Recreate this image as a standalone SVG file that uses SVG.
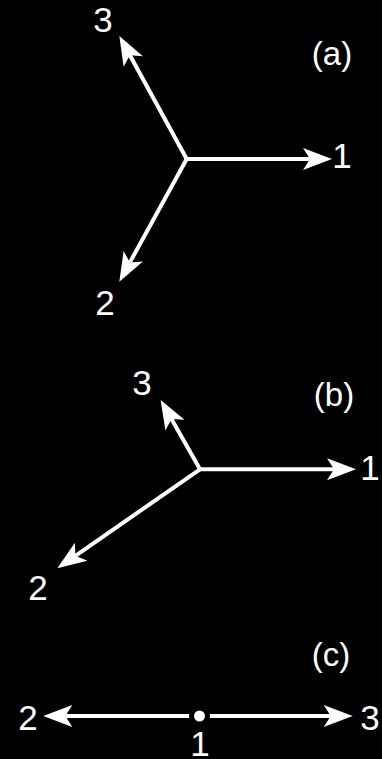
<svg xmlns="http://www.w3.org/2000/svg" width="382" height="759" viewBox="0 0 382 759">
<style>
.ax{stroke:#fff;stroke-width:4;fill:none;marker-end:url(#ah)}
.lb{fill:#fff;font-family:"Liberation Sans",Arial,sans-serif;font-size:35px;text-anchor:middle}
.pl{fill:#fff;font-family:"Liberation Sans",Arial,sans-serif;font-size:33px;text-anchor:middle}
</style>
<defs>
<marker id="ah" markerUnits="userSpaceOnUse" viewBox="-8 -12 31 24" refX="0" refY="0" markerWidth="31" markerHeight="24" orient="auto">
<path d="M22,0 L-7,-11 L0,0 L-7,11 Z" fill="#fff"/>
</marker>
</defs>
<rect width="382" height="759" fill="#000"/>
<g id="connectors">
<line class="ax" x1="186.7" y1="159" x2="310" y2="159"/>
<line class="ax" x1="186.7" y1="159" x2="129.9" y2="55.3"/>
<line class="ax" x1="186.7" y1="159" x2="129.9" y2="262.4"/>
<line class="ax" x1="200" y1="469.3" x2="334" y2="469.3"/>
<line class="ax" x1="200" y1="469.3" x2="171.5" y2="419.1"/>
<line class="ax" x1="200" y1="469.3" x2="75.4" y2="555.8"/>
<line class="ax" x1="200" y1="716" x2="65.3" y2="716"/>
<line class="ax" x1="200" y1="716" x2="330.7" y2="716"/>
</g>
<g id="panel-a">
<text class="pl" x="332" y="65">(a)</text>
<text class="lb" x="342" y="168">1</text>
<text class="lb" x="105" y="315">2</text>
<text class="lb" x="103" y="32">3</text>
</g>
<g id="panel-b">
<text class="pl" x="334" y="406">(b)</text>
<text class="lb" x="370" y="480">1</text>
<text class="lb" x="38" y="600">2</text>
<text class="lb" x="142" y="395">3</text>
</g>
<g id="panel-c">
<text class="pl" x="331" y="666">(c)</text>
<circle cx="199.5" cy="716" r="8" fill="#fff" stroke="#000" stroke-width="5"/>
<text class="lb" x="200" y="756">1</text>
<text class="lb" x="28" y="730">2</text>
<text class="lb" x="370" y="730">3</text>
</g>
</svg>
